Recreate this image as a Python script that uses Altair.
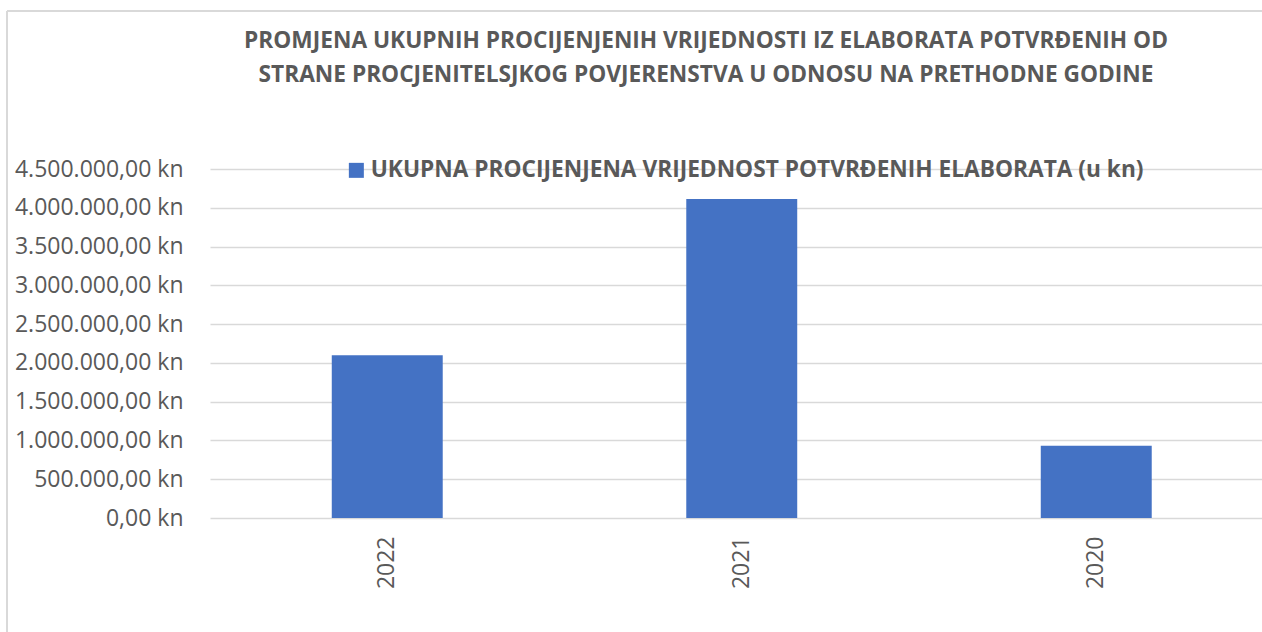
import altair as alt
import pandas as pd

# Chart data
years = ["2022", "2021", "2020"]
values = [2_097_000, 4_113_000, 932_000]
series_name = "UKUPNA PROCIJENJENA VRIJEDNOST POTVRĐENIH ELABORATA (u kn)"
y_ticks = [0, 500_000, 1_000_000, 1_500_000, 2_000_000, 2_500_000,
           3_000_000, 3_500_000, 4_000_000, 4_500_000]
title_lines = [
    "PROMJENA UKUPNIH PROCIJENJENIH VRIJEDNOSTI IZ ELABORATA POTVRĐENIH OD",
    "STRANE PROCJENITELSJKOG POVJERENSTVA U ODNOSU NA PRETHODNE GODINE",
]

df = pd.DataFrame({"godina": years, "vrijednost": values, "serija": [series_name] * len(years)})

FONT = "Open Sans"
GREY = "#595959"
GRID = "#d9d9d9"
BLUE = "#4472C4"

# Croatian number format: 4.500.000,00 kn
kn_expr = (
    "replace(replace(replace(format(datum.value, ',.2f'), regexp(',', 'g'), ' '), "
    "regexp('[.]', 'g'), ','), regexp(' ', 'g'), '.') + ' kn'"
)

bars = alt.Chart(df).mark_bar(color=BLUE).encode(
    x=alt.X(
        "godina:N",
        sort=years,
        scale=alt.Scale(range=[0, 1063.5], paddingInner=0.687, paddingOuter=0.3435),
        axis=alt.Axis(
            title=None, labelAngle=270, labelFont=FONT, labelFontSize=23,
            labelColor=GREY, labelPadding=18, ticks=False, domain=False,
        ),
    ),
    y=alt.Y(
        "vrijednost:Q",
        scale=alt.Scale(domain=[0, 4_500_000]),
        axis=alt.Axis(
            title=None, values=y_ticks, labelExpr=kn_expr, labelFont=FONT,
            labelFontSize=23, labelColor=GREY, labelPadding=27, ticks=False,
            domain=False, gridColor=GRID, gridWidth=1.4,
        ),
    ),
    color=alt.Color(
        "serija:N",
        scale=alt.Scale(range=[BLUE]),
        legend=alt.Legend(
            title=None, orient="none", legendX=135, legendY=-10,
            symbolType="square", symbolSize=225, symbolStrokeWidth=0,
            labelFont=FONT, labelFontSize=22.7, labelFontWeight="bold",
            labelColor=GREY, labelOffset=3, padding=0, labelLimit=1000,
        ),
    ),
)

# outer chart frame: top and left edges
frame_top = alt.Chart(df).mark_rule(color=GRID, strokeWidth=2).encode(
    x=alt.value(-203), x2=alt.value(1052), y=alt.value(-158)
)
frame_left = alt.Chart(df).mark_rule(color=GRID, strokeWidth=2).encode(
    x=alt.value(-203), y=alt.value(-158), y2=alt.value(470)
)

chart = alt.layer(frame_top, frame_left, bars).properties(
    width=1052,
    height=349,
    title=alt.TitleParams(
        text=title_lines, font=FONT, fontSize=22.7, fontWeight="bold", color=GREY,
        anchor="middle", frame="group", dx=-30, offset=-77, lineHeight=34,
    ),
    autosize=alt.AutoSizeParams(type="none"),
    padding={"left": 210, "top": 169, "right": 0, "bottom": 114},
    background="white",
).configure_view(stroke=None)

chart.save("out.html", embed_options={"renderer": "svg", "actions": False})
